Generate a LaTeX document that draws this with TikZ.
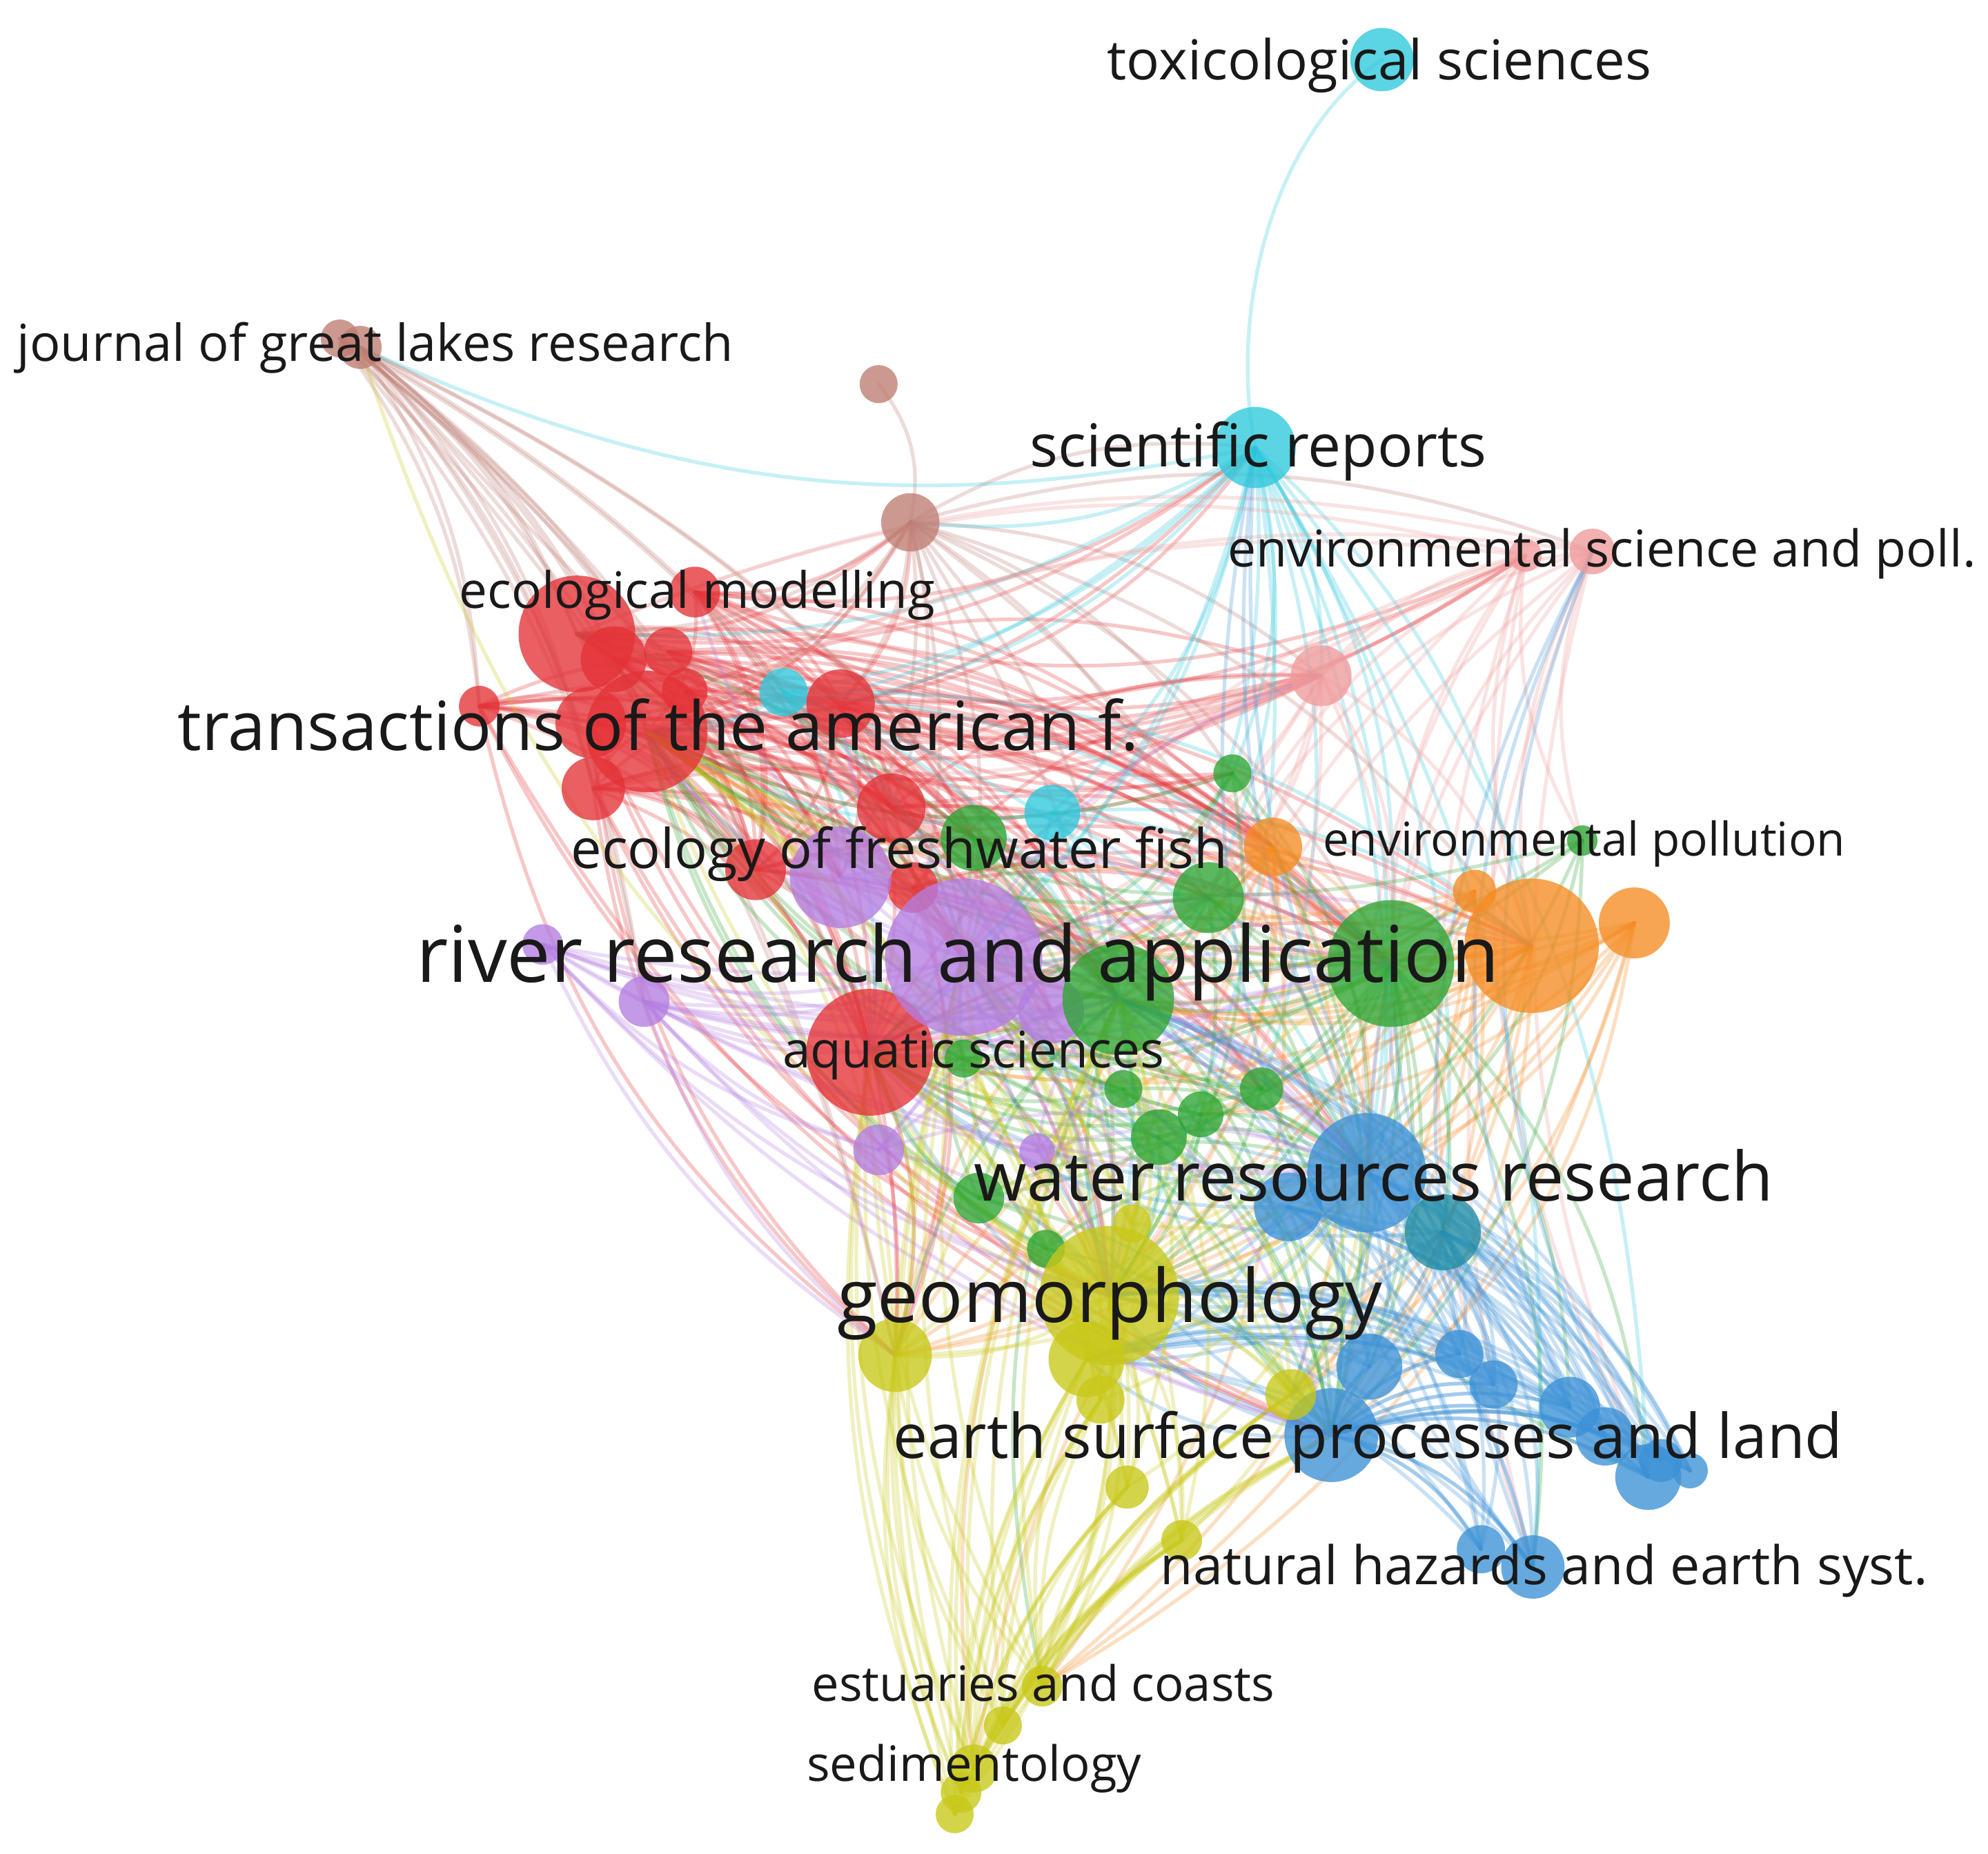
\documentclass[tikz,border=0pt]{standalone}
\usepackage{fontspec}
\setmainfont{Open Sans}
\usepackage{graphicx}
\pgfdeclarelayer{back}
\pgfdeclarelayer{bg}
\pgfsetlayers{back,bg,main}
\definecolor{cRed}{RGB}{228,50,55}
\definecolor{cGreen}{RGB}{45,165,50}
\definecolor{cBlue}{RGB}{60,145,215}
\definecolor{cYel}{RGB}{200,200,25}
\definecolor{cPur}{RGB}{180,125,225}
\definecolor{cCyan}{RGB}{45,200,220}
\definecolor{cOr}{RGB}{245,140,35}
\definecolor{cBr}{RGB}{190,125,115}
\definecolor{cPk}{RGB}{240,155,155}
\definecolor{cTeal}{RGB}{30,140,165}
\definecolor{cTxt}{RGB}{25,25,25}
\newlength\pxu \setlength\pxu{0.018374cm}
\newcommand\jn[4]{\node[jn,fill=#2,minimum size=#4*0.036748cm] (#1) at (#3) {};}
\newcommand\lab[4]{\node[lbl] (#1) at (#2) {\resizebox{#3\pxu}{!}{#4}};}
\newcommand\edges[4]{\foreach \s in {#2}{\foreach \t in {#3}{\draw[ed,#1] (\s.center) to[bend left=#4] (\t.center);}}}
\begin{document}
\begin{tikzpicture}[x=0.018374cm,y=-0.018374cm,
  jn/.style={circle,inner sep=0pt,draw=none,fill opacity=0.78},
  ed/.style={line width=1.5pt,draw opacity=0.27,line cap=round},
  lbl/.style={inner sep=0pt,text=cTxt,anchor=base west}]
\begin{pgfonlayer}{back}
\path[use as bounding box,fill=white] (0,0) rectangle (1568,1462);
\end{pgfonlayer}
% ---------------- nodes
% cyan
\jn{cyA}{cCyan}{1090,47}{25}
\jn{cyB}{cCyan}{990,353}{32}
\jn{cyC}{cCyan}{618,546}{19}
\jn{cyD}{cCyan}{830,641}{22}
% brown
\jn{brA}{cBr}{268,267}{15}
\jn{brB}{cBr}{284,274}{17}
\jn{brC}{cBr}{693,303}{15}
\jn{brD}{cBr}{718,412}{23}
% pink
\jn{pkA}{cPk}{1203,438}{13}
\jn{pkB}{cPk}{1256,435}{18}
\jn{pkC}{cPk}{1042,533}{24}
% red
\jn{rdA}{cRed}{455,500}{46}
\jn{rdB}{cRed}{548,467}{20}
\jn{rdC}{cRed}{527,514}{19}
\jn{rdD}{cRed}{540,545}{18}
\jn{rdN}{cRed}{484,520}{26}
\jn{rdE}{cRed}{510,577}{48}
\jn{rdF}{cRed}{466,570}{28}
\jn{rdG}{cRed}{378,557}{16}
\jn{rdH}{cRed}{468,622}{25}
\jn{rdI}{cRed}{663,555}{27}
\jn{rdJ}{cRed}{703,637}{27}
\jn{rdK}{cRed}{596,686}{24}
\jn{rdM}{cRed}{720,700}{20}
\jn{rdL}{cRed}{686,830}{50}
% purple
\jn{puB}{cPur}{663,692}{40}
\jn{puA}{cPur}{760,755}{62}
\jn{puC}{cPur}{428,745}{16}
\jn{puD}{cPur}{508,790}{20}
\jn{puE}{cPur}{693,907}{20}
\jn{puF}{cPur}{818,908}{14}
\jn{puG}{cPur}{829,797}{26}
% green
\jn{grA}{cGreen}{1097,760}{50}
\jn{grB}{cGreen}{882,788}{44}
\jn{grC}{cGreen}{953,708}{28}
\jn{grD}{cGreen}{972,610}{15}
\jn{grE}{cGreen}{768,661}{26}
\jn{grF}{cGreen}{1248,663}{12}
\jn{grG}{cGreen}{886,859}{15}
\jn{grH}{cGreen}{995,859}{17}
\jn{grI}{cGreen}{947,879}{18}
\jn{grJ}{cGreen}{914,897}{22}
\jn{grK}{cGreen}{772,945}{20}
\jn{grL}{cGreen}{825,985}{15}
\jn{grM}{cGreen}{760,835}{15}
% orange
\jn{orA}{cOr}{1208,746}{53}
\jn{orB}{cOr}{1289,728}{28}
\jn{orC}{cOr}{1004,668}{23}
\jn{orD}{cOr}{1163,703}{17}
% blue
\jn{blA}{cBlue}{1078,925}{47}
\jn{blB}{cBlue}{1016,952}{27}
\jn{tlA}{cTeal}{1138,972}{30}
\jn{blC}{cBlue}{1080,1078}{26}
\jn{blD}{cBlue}{1151,1068}{19}
\jn{blE}{cBlue}{1178,1092}{19}
\jn{blF}{cBlue}{1238,1110}{24}
\jn{blG}{cBlue}{1266,1133}{23}
\jn{blH}{cBlue}{1050,1132}{37}
\jn{blI}{cBlue}{1300,1165}{26}
\jn{blJ}{cBlue}{1310,1152}{17}
\jn{blK}{cBlue}{1333,1160}{14}
\jn{blL}{cBlue}{1168,1222}{19}
\jn{blM}{cBlue}{1209,1236}{25}
% yellow
\jn{ylA}{cYel}{875,1022}{55}
\jn{ylB}{cYel}{857,1072}{30}
\jn{ylC}{cYel}{706,1069}{29}
\jn{ylD}{cYel}{868,1104}{19}
\jn{ylE}{cYel}{1018,1100}{20}
\jn{ylF}{cYel}{889,1173}{17}
\jn{ylG}{cYel}{932,1215}{16}
\jn{ylH}{cYel}{893,965}{15}
\jn{ylI}{cYel}{822,1330}{16}
\jn{ylJ}{cYel}{791,1361}{15}
\jn{ylK}{cYel}{768,1395}{19}
\jn{ylL}{cYel}{758,1414}{16}
\jn{ylM}{cYel}{753,1431}{15}
% ---------------- edges
\begin{pgfonlayer}{bg}
\draw[ed,cCyan] (cyA.center) .. controls (1000,110) and (970,250) .. (cyB.center);
\draw[ed,cBr] (brC.center) to[bend left=25] (brD.center);
\edges{cRed}{rdA,rdB,rdC,rdE,rdF,rdG,rdH,rdI,rdN}{puA,puB,grB,grA,rdL,rdJ,grE,orC,rdK}{22}
\edges{cRed}{rdJ,rdK,rdL,rdM,rdD}{grA,grC,ylA,blA,orA,pkC,grH,puG,ylC}{20}
\edges{cRed}{rdA,rdE,rdI,rdB}{brD,pkC,cyB,pkA,grD}{-22}
\edges{cRed}{rdA,rdB,rdG,rdH}{rdE,rdI,rdK}{25}
\edges{cRed}{rdG,rdH,rdF}{ylC,ylA,blH}{-20}
\edges{cOr}{orA,orC}{ylC,ylK}{-25}
\edges{cBr}{brA,brB}{rdA,rdE,rdH,rdL,puA,puD,grB,ylC,rdK,rdG}{15}
\draw[ed,cBr] (brB.center) .. controls (520,520) and (580,640) .. (brD.center);
\edges{cBr}{brD}{rdA,rdE,rdI,puA,grA,grB,grC,pkC,pkB,rdL,ylA,blA,orA,cyB,grD,rdJ,puB}{18}
\edges{cCyan}{cyB}{puA,grA,grB,grC,grD,rdA,rdI,brD,pkC,blA,blH,orA,ylA,rdL,tlA,blI,grH,cyD,cyC,rdE,blM,brB}{18}
\edges{cCyan}{cyC,cyD}{puA,grA,grB,rdE,ylA,blA,rdL,orA}{20}
\edges{cPk}{pkA,pkB}{pkC,grA,orA,rdE,rdA,puA,grC,blA,blI,blM,grF,ylA}{-18}
\edges{cPk}{pkC}{grA,grB,puA,rdE,rdA,rdI,orA,blA,ylA,grC,rdL}{20}
\edges{cOr}{orA,orB,orC,orD}{grA,grB,puA,rdL,ylA,ylC,blA,blH,grC,rdE,grI,ylE,ylI}{22}
\edges{cGreen}{grA}{grB,grC,puA,blA,blH,ylA,rdE,rdL,blI,blF,blM,grJ,grH,tlA,ylE,grK,rdA,blC}{20}
\edges{cGreen}{grB}{puA,ylA,blA,rdE,rdA,grC,grE,grK,ylC,blH,rdL,ylI,blI}{-18}
\edges{cGreen}{grC,grD,grE,grF,grG,grH,grI,grJ,grK,grL,grM}{puA,blA,ylA,rdL,rdE,blH}{22}
\edges{cBlue}{blA,blB,tlA,blH}{blC,blD,blE,blF,blG,blI,blJ,blK,blL,blM,ylA,puA,ylE,rdL,ylB}{22}
\edges{cBlue}{blC,blD,blE,blF,blG,blI,blJ,blK,blL,blM}{ylA,grB,blH,ylB}{-22}
\edges{cBlue}{blI,blM,blF}{grA,cyB,pkB}{25}
\edges{cYel}{ylA}{ylB,ylC,ylD,ylE,ylF,ylG,ylI,ylK,ylM,blA,blH,puA,rdL,rdE,grA,puE,ylJ,brB,grK}{20}
\edges{cYel}{ylI,ylJ,ylK,ylL,ylM}{ylB,ylC,ylF,ylG,ylE,blH,grB,rdL,puA,ylD}{15}
\edges{cYel}{ylC,ylB,ylD,ylE,ylF,ylG,ylH}{puA,rdL,rdE,grB,blA}{-20}
\edges{cPur}{puA}{rdE,rdA,grA,grB,ylA,blA,puC,puD,puE,puG,rdL,orA,pkC,blH,rdI,rdB}{20}
\edges{cPur}{puC,puD}{grB,grA,rdL,ylA,blA,puE,puG,grC,ylC,blH}{-15}
\edges{cPur}{puE,puF,puG,puB}{ylA,grA,blA,grB,rdL}{20}
\end{pgfonlayer}
% ---------------- labels
\lab{Ltox}{873,63}{429}{toxicological sciences}
\lab{Ljgl}{13,285}{565}{journal of great lakes research}
\lab{Lsr}{812,368}{360}{scientific reports}
\lab{Lesp}{968,447}{590}{environmental science and poll.}
\lab{Lem}{362,480}{375}{ecological modelling}
\lab{Ltaf}{140,592}{758}{transactions of the american f.}
\lab{Leff}{450,685}{518}{ecology of freshwater fish}
\lab{Lep}{1043,675}{412}{environmental pollution}
\lab{Lrra}{328,775}{854}{river research and application}
\lab{Las}{617,842}{301}{aquatic sciences}
\lab{Lwrr}{768,947}{630}{water resources research}
\lab{Lgeo}{660,1043}{430}{geomorphology}
\lab{Lespl}{704,1150}{749}{earth surface processes and land}
\lab{Lnh}{915,1250}{605}{natural hazards and earth syst.}
\lab{Lec}{640,1342}{365}{estuaries and coasts}
\lab{Lsed}{636,1405}{264}{sedimentology}
\end{tikzpicture}
\end{document}
